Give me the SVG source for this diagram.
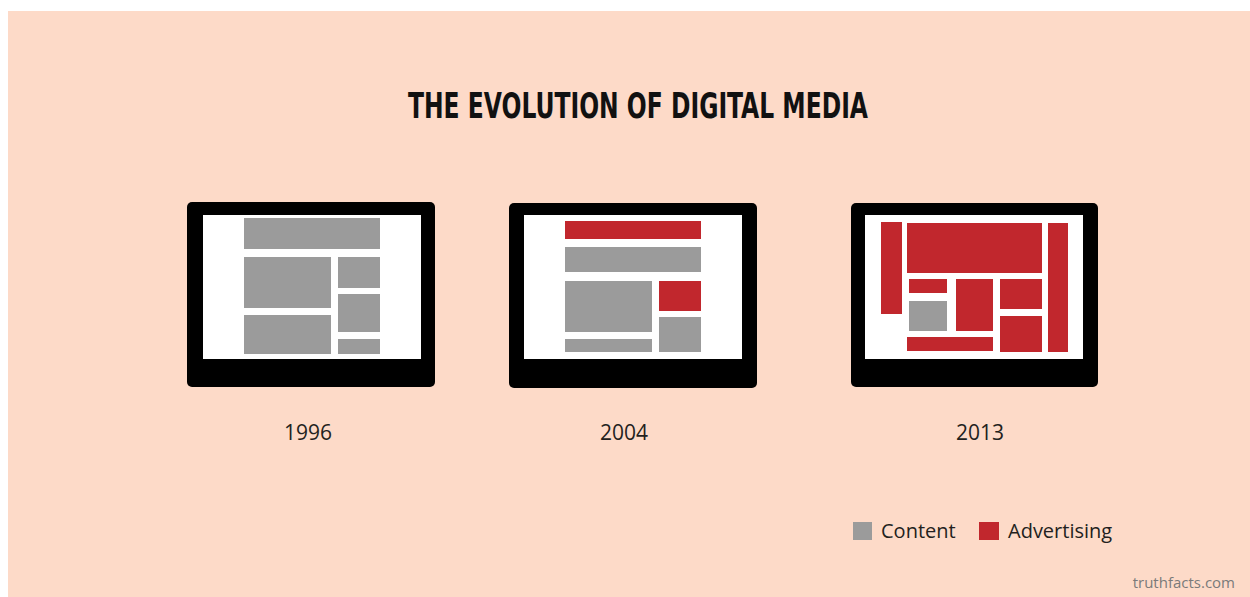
<svg xmlns="http://www.w3.org/2000/svg" width="1250" height="597" viewBox="0 0 1250 597">
<style>
.frame{fill:#000}
.screen{fill:#fff}
.c{fill:#9b9b9b}
.a{fill:#c1272d}
.year{font-family:"Open Sans","Liberation Sans",sans-serif;font-size:21px;font-weight:500;fill:#231f20;text-anchor:middle}
.leg{font-family:"Open Sans","Liberation Sans",sans-serif;font-size:20px;font-weight:500;fill:#231f20}
</style>
<rect x="0" y="0" width="1250" height="597" fill="#fff"/>
<rect x="8" y="11" width="1242" height="586" fill="#fddac8"/>
<text x="638" y="118" font-family="'Liberation Sans Narrow','DejaVu Sans Condensed','Liberation Sans',sans-serif" font-weight="bold" font-size="35" fill="#111" text-anchor="middle" textLength="460" lengthAdjust="spacingAndGlyphs">THE EVOLUTION OF DIGITAL MEDIA</text>
<g id="m1996">
<rect class="frame" x="187" y="202" width="248" height="185" rx="5"/>
<rect class="screen" x="203" y="215" width="218" height="144"/>
<rect class="c" x="244" y="218" width="136" height="31"/>
<rect class="c" x="244" y="257" width="87" height="51"/>
<rect class="c" x="244" y="315" width="87" height="39"/>
<rect class="c" x="338" y="257" width="42" height="31"/>
<rect class="c" x="338" y="294" width="42" height="38"/>
<rect class="c" x="338" y="339" width="42" height="15"/>
<text class="year" x="308" y="440">1996</text>
</g>
<g id="m2004">
<rect class="frame" x="509" y="203" width="248" height="185" rx="5"/>
<rect class="screen" x="524" y="215" width="218" height="144"/>
<rect class="a" x="565" y="221" width="136" height="18"/>
<rect class="c" x="565" y="247" width="136" height="25"/>
<rect class="c" x="565" y="281" width="87" height="51"/>
<rect class="c" x="565" y="339" width="87" height="13"/>
<rect class="a" x="659" y="281" width="42" height="30"/>
<rect class="c" x="659" y="317" width="42" height="35"/>
<text class="year" x="624" y="440">2004</text>
</g>
<g id="m2013">
<rect class="frame" x="851" y="203" width="247" height="184" rx="5"/>
<rect class="screen" x="865" y="215" width="218" height="144"/>
<rect class="a" x="881" y="222" width="21" height="92"/>
<rect class="a" x="907" y="223" width="135" height="50"/>
<rect class="a" x="1048" y="223" width="20" height="129"/>
<rect class="a" x="909" y="279" width="38" height="14"/>
<rect class="c" x="909" y="301" width="38" height="30"/>
<rect class="a" x="956" y="279" width="37" height="52"/>
<rect class="a" x="1000" y="279" width="42" height="30"/>
<rect class="a" x="1000" y="316" width="42" height="36"/>
<rect class="a" x="907" y="337" width="86" height="14"/>
<text class="year" x="980" y="440">2013</text>
</g>
<g id="legend">
<rect class="c" x="853" y="522" width="19" height="18"/>
<text class="leg" x="881" y="538">Content</text>
<rect class="a" x="979" y="522" width="20" height="18"/>
<text class="leg" x="1008" y="538">Advertising</text>
</g>
<text x="1235" y="588" font-family="'Open Sans','Liberation Sans',sans-serif" font-size="15" font-weight="500" fill="#7a7a7a" text-anchor="end">truthfacts.com</text>
</svg>
